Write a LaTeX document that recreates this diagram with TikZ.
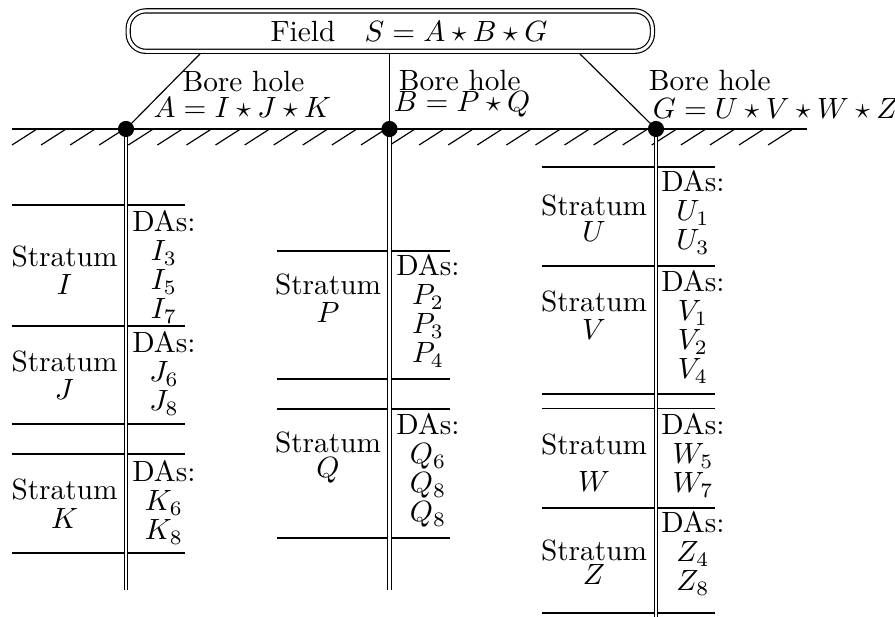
\documentclass[tikz,border=0pt]{standalone}
\newcommand\stratlab[5]{%
  \node[txt] (#1s) at (#2,#3) {Stratum};
  \node[txt] (#1l) at (#2,#4) {$#5$};}
\newcommand\dalist[4]{%
  \foreach \t [count=\i from 0] in {#4} \node[txt] (#1\i) at (#2,#3+29*\i) {\t};}
\begin{document}
\begin{tikzpicture}[x=0.3413pt,y=-0.3413pt,line width=0.4pt,
  txt/.style={anchor=base,inner sep=0pt,outer sep=0pt},
  lab/.style={anchor=base west,inner sep=0pt},
  hole/.style={double,double distance=0.9pt,line width=0.4pt},
  dot/.style={circle,fill=black,inner sep=0pt,minimum size=5.5pt},
  fieldbox/.style={draw,double,double distance=1pt,line width=0.4pt,rounded corners=6pt,
    minimum width=178.9pt,minimum height=13.8pt,inner sep=0pt,outer sep=0.9pt}]
\useasboundingbox (0,0) rectangle (895,617);

% field box
\node[fieldbox] (field) at (390.3,31.1) {};
\node[lab] (fieldtext) at (270,41.7) {Field\quad $S = A\star B\star G$};

% ground
\coordinate (gl) at (12,129);
\coordinate (gr) at (807,129);
\draw (gl) -- (gr);
\foreach \i in {0,...,26} \draw (12+29.08*\i,145) -- ++(25,-16);

% strata lines
\foreach \y in {205,326,424,454,553} \draw (12,\y) -- (185,\y);
\foreach \y in {251,379,409,538} \draw (277,\y) -- (450,\y);
\foreach \y in {167,266,394,408.5,508,613} \draw (542,\y) -- (715,\y);

% bore holes
\coordinate (endA) at (126,590);
\coordinate (endB) at (389.5,590);
\coordinate (endG) at (656,620);
\draw[hole] (126,129) -- (endA);
\draw[hole] (389.5,129) -- (endB);
\draw[hole] (656,129) -- (endG);

\node[dot] (dA) at (126,129) {};
\node[dot] (dB) at (389.5,129) {};
\node[dot] (dG) at (656,129) {};

% connectors
\coordinate (xa) at (200,0);
\coordinate (xb) at (389.5,0);
\coordinate (xg) at (580,0);
\draw (field.south -| xa) -- (dA.center);
\draw (field.south -| xb) -- (dB.center);
\draw (field.south -| xg) -- (dG.center);

% bore hole labels
\node[lab] (lA1) at (182,91.7) {Bore hole};
\node[lab] (lA2) at (153,117.3) {$A = I\star J\star K$};
\node[lab] (lB1) at (398.3,90.7) {Bore hole};
\node[lab] (lB2) at (393.3,111.7) {$B = P\star Q$};
\node[lab] (lG1) at (648.3,90.7) {Bore hole};
\node[lab] (lG2) at (652.3,118.3) {$G = U\star V\star W\star Z$};

% left column
\stratlab{sI}{64.5}{267}{295}{I}
\dalist{dI}{164}{232}{DAs:,$I_3$,$I_5$,$I_7$}
\stratlab{sJ}{64.5}{372}{400}{J}
\dalist{dJ}{164}{353}{DAs:,$J_6$,$J_8$}
\stratlab{sK}{64.5}{500}{529}{K}
\dalist{dK}{164}{482}{DAs:,$K_6$,$K_8$}

% middle column
\stratlab{sP}{328}{295}{323}{P}
\dalist{dP}{428}{276}{DAs:,$P_2$,$P_3$,$P_4$}
\stratlab{sQ}{328}{453}{478}{Q}
\dalist{dQ}{428}{435}{DAs:,$Q_6$,$Q_8$,$Q_8$}

% right column
\stratlab{sU}{594}{216}{242}{U}
\dalist{dU}{693}{192}{DAs:,$U_1$,$U_3$}
\stratlab{sV}{594}{312}{340}{V}
\dalist{dV}{693}{292}{DAs:,$V_1$,$V_2$,$V_4$}
\stratlab{sW}{594}{455}{492}{W}
\dalist{dW}{693}{435}{DAs:,$W_5$,$W_7$}
\stratlab{sZ}{594}{561}{585}{Z}
\dalist{dZ}{693}{533}{DAs:,$Z_4$,$Z_8$}
\end{tikzpicture}
\end{document}
